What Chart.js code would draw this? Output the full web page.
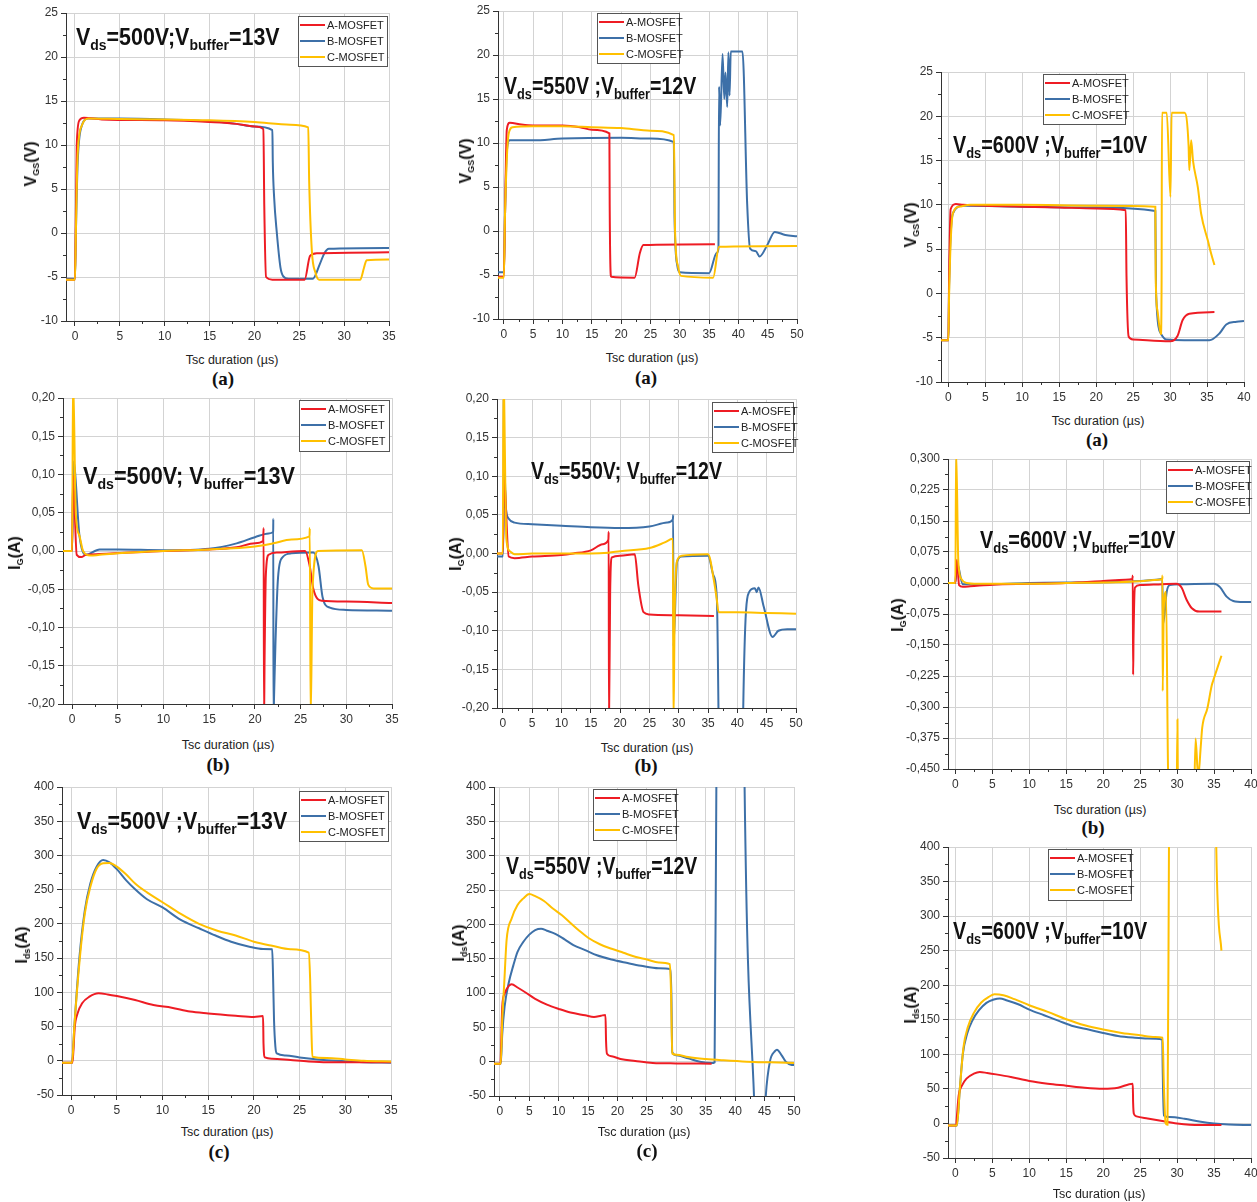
<!DOCTYPE html>
<html>
<head>
<meta charset="utf-8">
<script src="https://cdn.jsdelivr.net/npm/chart.js@4.4.0/dist/chart.umd.min.js"></script>
<style>
  body { margin: 0; background: #fff; width: 1257px; height: 1202px; position: relative; overflow: hidden; font-family: "Liberation Sans", Arial, sans-serif; }
  canvas { position: absolute; }
  .note { position: absolute; font-weight: bold; font-size: 23px; line-height: 1; white-space: nowrap; transform-origin: 0 0; color: #111; }
  .note sub { font-size: 15px; vertical-align: baseline; position: relative; top: 5px; }
  .ytitle { position: absolute; font-weight: bold; font-size: 16px; white-space: nowrap; transform: translate(-50%, -50%) rotate(-90deg); color: #111; }
  .ytitle sub { font-size: 9px; vertical-align: baseline; position: relative; top: 3px; }
  .xtitle { position: absolute; font-size: 12.5px; white-space: nowrap; transform: translate(-50%, -50%); color: #222; }
  .tag { position: absolute; font-family: "Liberation Serif", serif; font-weight: bold; font-size: 19px; transform: translate(-50%, -50%); color: #111; }
</style>
</head>
<body>
<script>
// tick values
const xTicks35 = [0, 5, 10, 15, 20, 25, 30, 35];
const xTicks40 = [0, 5, 10, 15, 20, 25, 30, 35, 40];
const xTicks50 = [0, 5, 10, 15, 20, 25, 30, 35, 40, 45, 50];
const vgsTicks = [-10, -5, 0, 5, 10, 15, 20, 25];
const igTicks = [-0.20, -0.15, -0.10, -0.05, 0, 0.05, 0.10, 0.15, 0.20];
const ig600Ticks = [-0.450, -0.375, -0.300, -0.225, -0.150, -0.075, 0, 0.075, 0.150, 0.225, 0.300];
const idsTicks = [-50, 0, 50, 100, 150, 200, 250, 300, 350, 400];

const seriesNames = ['A-MOSFET', 'B-MOSFET', 'C-MOSFET'];

// VGS, Vds = 500 V  [t (us), V]
const vgs500_A = [[-1,-5.3],[0,-5.3],[0.1,2],[0.2,10],[0.5,12.8],[1,13.1],[3,12.9],[10,12.8],[15,12.6],[18,12.4],[20,12.1],[21,11.8],[21.1,3],[21.3,-5.0],[22,-5.3],[25.6,-5.3],[26.2,-2.6],[27,-2.3],[35,-2.2]];
const vgs500_B = [[-1,-5.2],[0,-5.2],[0.1,0],[0.3,8],[0.7,12],[1.5,13.0],[5,13.0],[10,12.9],[15,12.7],[18,12.4],[20,12.1],[22,11.7],[22.05,8],[22.2,4],[22.5,0],[22.9,-3.9],[23.2,-4.9],[23.8,-5.2],[26.5,-5.2],[27.3,-3.5],[27.8,-2.3],[28.3,-1.8],[35,-1.7]];
const vgs500_C = [[-1,-5.3],[0,-5.3],[0.1,0],[0.3,9],[0.8,12.3],[1.5,13.0],[5,12.95],[10,12.9],[15,12.8],[20,12.6],[24,12.3],[26,12.0],[26.1,6],[26.4,-2],[26.8,-4.5],[27.2,-5.3],[31.8,-5.3],[32.2,-4],[32.5,-3.1],[35,-3.0]];

// VGS, Vds = 550 V
const vgs550_A = [[-1,-5.2],[0,-5.2],[0.2,2],[0.5,11.5],[1,12.3],[3,12.1],[5,12.0],[10,12.0],[13,11.8],[15,11.5],[18,11.1],[18.05,3],[18.3,-5.2],[22.3,-5.3],[23.2,-2.5],[23.8,-1.6],[36,-1.5]];
const vgs550_B = [[-1,-4.7],[0,-4.7],[0.2,2],[0.5,9],[1,10.3],[5,10.3],[10,10.5],[20,10.6],[25,10.5],[29,10.1],[29.1,2],[29.6,-4],[30,-4.7],[35,-4.8],[36.3,-2.5],[36.6,-2],[36.7,16.4],[36.9,12],[37.3,20.1],[37.6,15],[37.8,18],[38.1,14.1],[38.3,20.3],[38.5,15.4],[38.7,20.4],[40.7,20.4],[41.5,3.1],[42,-2.0],[43,-2.3],[43.6,-2.9],[45,-1.5],[46.2,-0.1],[48,-0.45],[50,-0.6]];
const vgs550_C = [[-1,-5.3],[0,-5.3],[0.2,2],[0.8,11],[1.5,11.8],[5,11.9],[10,11.9],[15,11.8],[20,11.7],[25,11.4],[29,10.9],[29.2,0],[29.7,-4],[30.2,-5.1],[35.7,-5.3],[36.7,-1.8],[50,-1.7]];

// VGS, Vds = 600 V
const vgs600_A = [[-1,-5.3],[0,-5.3],[0.1,2],[0.3,9.5],[1,10.1],[2,10.0],[10,9.8],[15,9.7],[20,9.6],[24,9.4],[24.1,2],[24.4,-4.9],[25,-5.2],[30,-5.4],[31,-4.8],[31.7,-3.0],[32.6,-2.3],[36,-2.1]];
const vgs600_B = [[-1,-5.3],[0,-5.3],[0.1,1],[0.6,9],[2,9.9],[10,9.8],[20,9.7],[28,9.3],[28.1,0],[28.8,-4.6],[29.5,-5.2],[35.3,-5.3],[36.7,-4.5],[37.6,-3.5],[39,-3.2],[40,-3.1]];
const vgs600_C = [[-1,-5.3],[0,-5.3],[0.1,0],[0.6,9],[1.5,9.8],[3,10.0],[10,10.0],[20,9.9],[28,9.8],[28.05,2],[28.3,-2],[28.75,-4.6],[28.85,1.5],[28.9,20.4],[29.55,20.4],[30.05,10.9],[30.2,20.4],[31.95,20.4],[32.5,16.7],[32.6,13.9],[32.85,17.3],[33.1,15.0],[33.75,12.0],[34.2,9.0],[35.1,6.0],[35.55,4.5],[36,3.2]];

// IG, Vds = 500 V  [t (us), A]
const ig500_A = [[-1,0],[0,0],[0.1,0.099],[0.5,-0.005],[1,-0.008],[1.5,-0.005],[3,-0.004],[10,0],[15,0.002],[18,0.005],[20,0.010],[20.9,0.013],[20.95,0.03],[21.0,-0.22],[21.05,-0.15],[21.2,-0.03],[21.5,-0.005],[22.5,-0.002],[25.5,0],[26,-0.02],[26.4,-0.05],[27.3,-0.065],[30,-0.066],[35,-0.068]];
const ig500_B = [[-1,0],[0,0],[0.15,0.117],[0.8,0.02],[1.5,-0.005],[3,0.002],[5,0.002],[10,0.001],[15,0.003],[18,0.01],[20,0.018],[21.5,0.023],[22,0.025],[22.01,0.042],[22.03,-0.22],[22.1,-0.188],[22.25,-0.12],[22.5,-0.04],[22.9,-0.01],[24,-0.003],[26.4,-0.002],[26.96,-0.02],[27.4,-0.06],[28.2,-0.074],[30,-0.077],[35,-0.078]];
const ig500_C = [[-1,0],[0,0],[0.1,0.23],[0.4,0.049],[0.8,0.02],[1.2,0],[2,-0.006],[3,-0.005],[5,-0.003],[10,0],[15,0.002],[20,0.006],[22,0.010],[24,0.015],[25.98,0.019],[26.0,0.03],[26.1,-0.22],[26.3,-0.05],[26.9,0],[31.7,0.001],[32.1,-0.02],[32.4,-0.044],[33,-0.049],[35,-0.049]];

// IG, Vds = 550 V
const ig550_A = [[-1,0],[0,0],[0.2,0.095],[1,-0.004],[2,-0.006],[5,-0.004],[10,-0.002],[12,0],[15,0.004],[17,0.012],[18,0.018],[18.05,0.028],[18.1,-0.22],[18.3,-0.05],[18.6,-0.005],[20,-0.003],[22.5,-0.001],[23.1,-0.041],[24,-0.076],[25,-0.079],[30,-0.080],[36,-0.081]];
const ig550_B = [[-1,-0.004],[0,-0.004],[0.3,0.104],[0.5,0.06],[1,0.045],[2,0.040],[5,0.038],[10,0.036],[15,0.034],[20,0.033],[25,0.035],[28,0.040],[29,0.044],[29.05,0.05],[29.1,-0.12],[29.7,-0.011],[30.5,-0.004],[35,-0.003],[35.9,-0.028],[36.5,-0.058],[36.8,-0.22],[37,-0.4],[40.8,-0.4],[41,-0.2],[42,-0.05],[43,-0.045],[43.3,-0.05],[43.6,-0.044],[44.5,-0.069],[46,-0.108],[47,-0.1],[48.5,-0.098],[50,-0.098]];
const ig550_C = [[-1,0],[0,0],[0.1,0.23],[0.6,0.019],[1.2,0.003],[2,-0.001],[5,0],[15,0],[18,0.001],[20,0.003],[25,0.007],[27.5,0.014],[29,0.019],[29.1,-0.22],[29.3,-0.08],[29.7,-0.01],[30.5,-0.003],[35,-0.001],[36,-0.035],[36.5,-0.06],[36.8,-0.076],[40,-0.076],[45,-0.077],[50,-0.078]];

// IG, Vds = 600 V
const ig600_A = [[-1,0],[0,0],[0.2,0.056],[0.5,-0.005],[1,-0.009],[2,-0.008],[5,-0.004],[10,-0.002],[15,0],[20,0.005],[23,0.008],[23.95,0.010],[24.0,0.018],[24.05,-0.222],[24.1,-0.138],[24.3,-0.011],[25,-0.005],[28,-0.003],[29.9,-0.002],[30.6,-0.011],[31.3,-0.041],[32,-0.061],[33,-0.069],[36,-0.069]];
const ig600_B = [[-1,0],[0,0],[0.2,0.05],[1,-0.003],[5,-0.003],[10,0],[20,0.002],[25,0.005],[27.7,0.009],[28,0.01],[28.1,-0.1],[28.6,-0.021],[29,-0.005],[30.5,-0.003],[35,-0.002],[35.8,-0.01],[36.7,-0.033],[37.6,-0.0435],[39,-0.046],[40,-0.046]];
const ig600_C = [[-1,0],[0,0],[0.1,0.32],[0.4,0.05],[0.8,0.01],[1.5,0],[3,-0.002],[10,-0.002],[15,0],[20,0.001],[25,0.004],[27.5,0.008],[28,0.010],[28.02,0.018],[28.05,-0.261],[28.2,-0.06],[28.5,-0.021],[28.8,-0.47],[29.9,-0.6],[30.05,-0.33],[30.1,-0.47],[32.2,-0.6],[32.5,-0.376],[32.85,-0.47],[33.2,-0.396],[33.4,-0.35],[34.1,-0.303],[34.7,-0.247],[35,-0.23],[36,-0.176]];

// Ids, Vds = 500 V  [t (us), A]
const ids500_A = [[-1,-3],[0.1,-3],[0.2,5],[0.4,49.7],[0.7,69],[1.2,84],[2,93.6],[3,98.5],[4,97],[5,94.6],[7,88.7],[9,81.4],[11,77.5],[13,72],[15,69.2],[18,65.8],[20,63.9],[21,65.3],[21.05,25],[21.2,4.9],[22,3],[24,1],[26,-1],[28,-2],[35,-2]];
const ids500_B = [[-1,-3],[0.1,-3],[0.35,50],[0.9,150],[1.5,220],[2.1,259],[2.8,284],[3.5,293.5],[4.2,290],[5,280],[6,264],[7,250.6],[8.3,236],[10,224],[12,205.7],[14,193.6],[15.8,183],[17.5,174],[19.5,166.7],[21,163.3],[22,162.8],[22.1,120],[22.2,59.5],[22.35,20.5],[22.5,10.7],[23.5,7.8],[25,4.9],[27,2],[29,0],[32,-2],[35,-2.9]];
const ids500_C = [[-1,-3],[0.1,-3],[0.35,50],[0.95,150],[1.5,215.5],[2.1,254],[2.8,281],[3.5,288.6],[4.2,289],[5,283.7],[6,272.5],[7,259],[8.3,246],[10,231.6],[12,214.5],[14,200],[16,190],[18,183],[20,174],[22,168],[24,163],[26,158],[26.15,120],[26.3,40],[26.4,5.8],[28,4],[30,2],[32,0],[35,-1]];

// Ids, Vds = 550 V
const ids550_A = [[-1,-3],[0.1,-3],[0.2,20],[0.4,79.8],[0.8,99],[1.48,110],[2,112.8],[3,108],[4.5,100],[6,91.4],[8,83],[10,76.8],[12,71.5],[14.5,67.6],[16,65.2],[17.2,67],[17.95,68],[18.05,30],[18.2,11.7],[19,7.8],[20.5,3.9],[23,1],[26,-1.9],[30,-2.5],[36,-3]];
const ids550_B = [[-1,-3],[0.15,-3],[0.4,40],[0.8,80],[1.48,113.8],[2.3,140.6],[3,160],[4,174.6],[5,185],[6,191.6],[7,193.6],[8,190.7],[9.5,185.8],[11,178],[12.5,169.7],[14.5,162.5],[16.5,155],[19,148.8],[21.5,144],[24,139.6],[27,136],[29,134.7],[29.15,100],[29.3,14],[30,9.2],[32,4.9],[34,0],[36,-2],[36.5,-1],[36.8,400],[37.2,700],[41.3,700],[41.6,400],[43.2,-50],[43.6,-120],[44.8,-120],[45.2,-50],[45.9,0],[46.8,15.6],[47.1,17.5],[47.9,9.2],[48.6,0],[49.6,-4.9],[50,-5]];
const ids550_C = [[-1,-3],[0.15,-3],[0.4,60],[0.74,114],[1.14,177],[2,208.6],[3,228],[4,237.8],[5,244],[6,241],[7.5,234],[9,223],[10.5,213.5],[12,202],[13.5,190.7],[15,180.4],[17,171],[19,164.4],[21,158.6],[23,152.7],[25,148.8],[27,144.5],[28.9,142],[29.1,100],[29.3,11.7],[30,10.2],[32,6.8],[35,3.9],[38,2],[42,0],[46,-1],[50,-1.9]];

// Ids, Vds = 600 V
const ids600_A = [[-1,-3],[0.1,-3],[0.2,10],[0.45,40.6],[0.9,55],[1.5,64.8],[2.5,72],[3.3,74.4],[4.3,73],[5.5,71],[7.5,67.2],[10,61.4],[12.5,57.5],[15,54.6],[17.5,51.7],[20,50.3],[22,51.7],[24,57.5],[24.05,30],[24.15,14],[24.5,10.2],[26,7.2],[28,3.4],[30,0],[33,-2.4],[36,-2.4]];
const ids600_B = [[-1,-3],[0.2,-3],[0.6,50],[1.0,100],[1.6,130],[2.3,149],[3.2,163.8],[4.2,174.5],[5.2,179.3],[6,180.8],[7,178],[8.5,172.5],[10,164.8],[12,156.6],[14,148.4],[16,140.6],[18,135.8],[20,131],[22,126.6],[24,124.2],[26,122.8],[28,121.3],[28.05,80],[28.2,11.6],[29,9.2],[31,6.8],[33,2.9],[35,0],[37,-1.5],[40,-2.4]];
const ids600_C = [[-1,-3],[0.2,-3],[0.6,50],[1.1,110.7],[1.7,139.7],[2.5,160],[3.5,175],[4.5,183],[5.3,187],[6.5,185.6],[8,179.8],[10,171],[12.5,161.4],[15,150.8],[17.5,142],[20,135.8],[22.5,131],[25,127.6],[27,125.2],[28.05,124.2],[28.2,60],[28.45,0],[28.7,-2],[28.9,400],[29.1,700],[35.1,700],[35.3,400],[36,250]];

const COLORS = ['#ee1c24', '#3d70a8', '#ffc000'];
const ORDER = [1, 2, 0];   // C on top

const fmtInt = v => String(v);
const fmt2 = v => v.toFixed(2).replace('.', ',');
const fmt3 = v => v.toFixed(3).replace('.', ',');

const VGS = 'V<sub>GS</sub>(V)', IG = 'I<sub>G</sub>(A)', IDS = 'I<sub>ds</sub>(A)';

const panels = [
  { l: 66, t: 13, r: 389, b: 321, xMax: 35, xTicks: xTicks35, yMin: -10, yMax: 25, yTicks: vgsTicks, fmt: fmtInt,
    series: [vgs500_A, vgs500_B, vgs500_C], leg: [298, 16, 89, 50],
    note: ['V<sub>ds</sub>=500V;V<sub>buffer</sub>=13V', 76, 26, 204], ytitle: [VGS, 31, 164], xtitle: [232, 360], tag: ['(a)', 223, 379] },
  { l: 498, t: 11, r: 797, b: 319, xMax: 50, xTicks: xTicks50, yMin: -10, yMax: 25, yTicks: vgsTicks, fmt: fmtInt,
    series: [vgs550_A, vgs550_B, vgs550_C], leg: [597, 13, 82, 50],
    note: ['V<sub>ds</sub>=550V ;V<sub>buffer</sub>=12V', 504, 75, 192], ytitle: [VGS, 466, 161], xtitle: [652, 358], tag: ['(a)', 646, 378] },
  { l: 941, t: 72, r: 1244, b: 382, xMax: 40, xTicks: xTicks40, yMin: -10, yMax: 25, yTicks: vgsTicks, fmt: fmtInt,
    series: [vgs600_A, vgs600_B, vgs600_C], leg: [1043, 74, 82, 50],
    note: ['V<sub>ds</sub>=600V ;V<sub>buffer</sub>=10V', 953, 134, 194], ytitle: [VGS, 911, 225], xtitle: [1098, 421], tag: ['(a)', 1097, 440] },
  { l: 63, t: 398, r: 392, b: 704, xMax: 35, xTicks: xTicks35, yMin: -0.2, yMax: 0.2, yTicks: igTicks, fmt: fmt2,
    series: [ig500_A, ig500_B, ig500_C], leg: [299, 400, 90, 51],
    note: ['V<sub>ds</sub>=500V; V<sub>buffer</sub>=13V', 83, 465, 212], ytitle: [IG, 15, 553], xtitle: [228, 745], tag: ['(b)', 218, 765] },
  { l: 497, t: 399, r: 796, b: 708, xMax: 50, xTicks: xTicks50, yMin: -0.2, yMax: 0.2, yTicks: igTicks, fmt: fmt2,
    series: [ig550_A, ig550_B, ig550_C], leg: [712, 402, 81, 50],
    note: ['V<sub>ds</sub>=550V; V<sub>buffer</sub>=12V', 531, 460, 191], ytitle: [IG, 456, 554], xtitle: [647, 748], tag: ['(b)', 646, 766] },
  { l: 948, t: 459, r: 1251, b: 769, xMax: 40, xTicks: xTicks40, yMin: -0.45, yMax: 0.3, yTicks: ig600Ticks, fmt: fmt3,
    series: [ig600_A, ig600_B, ig600_C], leg: [1166, 461, 83, 52],
    note: ['V<sub>ds</sub>=600V ;V<sub>buffer</sub>=10V', 980, 529, 195], ytitle: [IG, 898, 615], xtitle: [1100, 810], tag: ['(b)', 1093, 828] },
  { l: 62, t: 787, r: 391, b: 1095, xMax: 35, xTicks: xTicks35, yMin: -50, yMax: 400, yTicks: idsTicks, fmt: fmtInt,
    series: [ids500_A, ids500_B, ids500_C], leg: [299, 791, 89, 50],
    note: ['V<sub>ds</sub>=500V ;V<sub>buffer</sub>=13V', 77, 810, 210], ytitle: [IDS, 22, 945], xtitle: [227, 1132], tag: ['(c)', 219, 1152] },
  { l: 494, t: 787, r: 794, b: 1096, xMax: 50, xTicks: xTicks50, yMin: -50, yMax: 400, yTicks: idsTicks, fmt: fmtInt,
    series: [ids550_A, ids550_B, ids550_C], leg: [593, 789, 83, 51],
    note: ['V<sub>ds</sub>=550V ;V<sub>buffer</sub>=12V', 506, 855, 191], ytitle: [IDS, 459, 943], xtitle: [644, 1132], tag: ['(c)', 647, 1151] },
  { l: 948, t: 847, r: 1251, b: 1158, xMax: 40, xTicks: xTicks40, yMin: -50, yMax: 400, yTicks: idsTicks, fmt: fmtInt,
    series: [ids600_A, ids600_B, ids600_C], leg: [1048, 849, 83, 51],
    note: ['V<sub>ds</sub>=600V ;V<sub>buffer</sub>=10V', 953, 920, 194], ytitle: [IDS, 911, 1005], xtitle: [1099, 1194], tag: null }
];

// boxed legend drawn inside the plot
const boxLegend = {
  id: 'boxLegend',
  afterDatasetsDraw(chart, args, o) {
    const ctx = chart.ctx;
    ctx.save();
    ctx.fillStyle = '#fff';
    ctx.fillRect(o.x, o.y, o.w, o.h);
    ctx.strokeStyle = '#555';
    ctx.lineWidth = 1;
    ctx.strokeRect(o.x + 0.5, o.y + 0.5, o.w, o.h);
    ctx.font = '11px "Liberation Sans"';
    ctx.textBaseline = 'middle';
    chart.data.datasets.forEach((ds, i) => {
      const cy = o.y + 9 + i * 16;
      ctx.strokeStyle = ds.borderColor;
      ctx.lineWidth = 2;
      ctx.beginPath();
      ctx.moveTo(o.x + 2, cy);
      ctx.lineTo(o.x + 27, cy);
      ctx.stroke();
      ctx.fillStyle = '#222';
      ctx.fillText(ds.label, o.x + 29, cy + 0.5);
    });
    ctx.restore();
  }
};

// short minor ticks halfway between the major ones
const minorTicks = {
  id: 'minorTicks',
  afterDraw(chart) {
    const ctx = chart.ctx, a = chart.chartArea;
    const xs = chart.scales.x, ys = chart.scales.y;
    ctx.save();
    ctx.strokeStyle = '#333';
    ctx.lineWidth = 1;
    ctx.beginPath();
    for (let i = 0; i < xs.ticks.length - 1; i++) {
      const px = Math.round(xs.getPixelForValue((xs.ticks[i].value + xs.ticks[i + 1].value) / 2)) + 0.5;
      ctx.moveTo(px, a.bottom);
      ctx.lineTo(px, a.bottom + 3);
    }
    for (let i = 0; i < ys.ticks.length - 1; i++) {
      const py = Math.round(ys.getPixelForValue((ys.ticks[i].value + ys.ticks[i + 1].value) / 2)) + 0.5;
      ctx.moveTo(a.left, py);
      ctx.lineTo(a.left - 3, py);
    }
    ctx.stroke();
    ctx.restore();
  }
};

const YW = 60, XH = 30, PT = 12, PR = 14;

function addDiv(cls, html, left, top) {
  const d = document.createElement('div');
  d.className = cls;
  d.innerHTML = html;
  d.style.left = left + 'px';
  d.style.top = top + 'px';
  document.body.appendChild(d);
  return d;
}

panels.forEach(p => {
  const cv = document.createElement('canvas');
  const w = p.r - p.l + YW + PR, h = p.b - p.t + PT + XH;
  cv.width = w; cv.height = h;
  cv.style.width = w + 'px'; cv.style.height = h + 'px';
  cv.style.left = (p.l - YW) + 'px';
  cv.style.top = (p.t - PT) + 'px';
  document.body.appendChild(cv);

  const tickFont = { family: 'Liberation Sans', size: 12 };

  new Chart(cv, {
    type: 'line',
    data: {
      datasets: p.series.map((s, i) => ({
        label: seriesNames[i],
        data: s.map(([x, y]) => ({ x, y })),
        borderColor: COLORS[i],
        borderWidth: 2,
        pointRadius: 0,
        cubicInterpolationMode: 'monotone',
        fill: false,
        order: ORDER[i]
      }))
    },
    options: {
      responsive: false,
      animation: false,
      layout: { padding: { top: PT, right: PR, left: 0, bottom: 0 } },
      plugins: {
        legend: { display: false },
        tooltip: { enabled: false },
        boxLegend: { x: p.leg[0] - (p.l - YW), y: p.leg[1] - (p.t - PT), w: p.leg[2], h: p.leg[3] }
      },
      scales: {
        x: {
          type: 'linear', min: -1, max: p.xMax,
          afterBuildTicks: s => { s.ticks = p.xTicks.map(v => ({ value: v })); },
          afterFit: s => { s.height = XH; },
          ticks: { font: tickFont, color: '#333', padding: 3, maxRotation: 0, autoSkip: false },
          grid: { color: '#d3d3d3', lineWidth: 1, tickLength: 5, tickColor: '#333' },
          border: { color: '#333', width: 1 }
        },
        y: {
          type: 'linear', min: p.yMin, max: p.yMax,
          afterBuildTicks: s => { s.ticks = p.yTicks.map(v => ({ value: v })); },
          afterFit: s => { s.width = YW; },
          ticks: { font: tickFont, color: '#333', padding: 3, callback: v => p.fmt(v) },
          grid: { color: '#d3d3d3', lineWidth: 1, tickLength: 5, tickColor: '#333' },
          border: { color: '#333', width: 1 }
        }
      }
    },
    plugins: [boxLegend, minorTicks]
  });

  const n = addDiv('note', p.note[0], p.note[1], p.note[2]);
  n.style.transform = 'scaleX(' + (p.note[3] / n.offsetWidth) + ')';
  addDiv('ytitle', p.ytitle[0], p.ytitle[1], p.ytitle[2]);
  addDiv('xtitle', 'Tsc duration (µs)', p.xtitle[0], p.xtitle[1]);
  if (p.tag) addDiv('tag', p.tag[0], p.tag[1], p.tag[2]);
});
</script>
</body>
</html>
